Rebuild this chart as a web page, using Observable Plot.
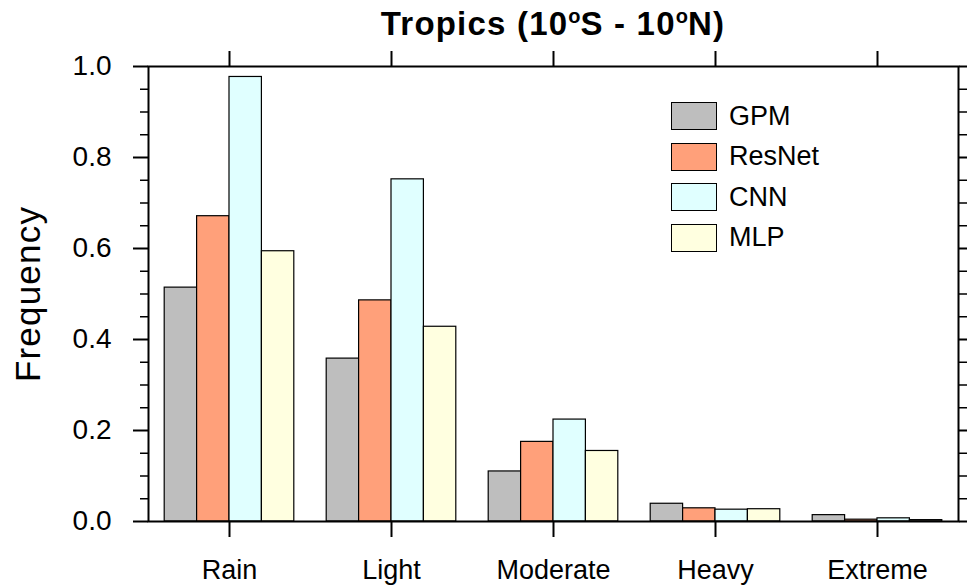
<!DOCTYPE html>
<html>
<head>
<meta charset="utf-8">
<script src="https://cdn.jsdelivr.net/npm/d3@7"></script>
<script src="https://cdn.jsdelivr.net/npm/@observablehq/plot@0.6"></script>
<style>
  html, body { margin: 0; padding: 0; background: #fff; }
  #wrap { position: relative; width: 967px; height: 588px; overflow: hidden; font-family: "Liberation Sans", Arial, sans-serif; }
  #title { height: 40px; box-sizing: border-box; padding-left: 148px; padding-right: 9px; text-align: center;
           font-weight: bold; font-size: 33px; letter-spacing: 1.2px; line-height: 48px; color: #000; white-space: nowrap; }
  #title sup { font-size: 20px; font-weight: bold; vertical-align: 0; position: relative; top: -12px; letter-spacing: 0; }
  #legend { position: absolute; left: 671px; top: 102px; }
  .row { display: flex; align-items: center; height: 28px; margin-bottom: 12.5px; }
  .sw { width: 44px; height: 26px; border: 1.2px solid #000; }
  .lab { margin-left: 12px; font-size: 27px; color: #000; }
  svg { display: block; }
</style>
</head>
<body>
<div id="wrap">
  <div id="title">Tropics (10<sup>o</sup>S - 10<sup>o</sup>N)</div>
  <div id="chart"></div>
  <div id="legend"></div>
</div>
<script>
// ---- data ----
const categories = ["Rain", "Light", "Moderate", "Heavy", "Extreme"];
const models = ["GPM", "ResNet", "CNN", "MLP"];
const gpm    = [0.514, 0.358, 0.110, 0.039, 0.014];
const resnet = [0.671, 0.486, 0.175, 0.029, 0.004];
const cnn    = [0.977, 0.752, 0.224, 0.026, 0.007];
const mlp    = [0.594, 0.428, 0.155, 0.027, 0.003];
const colors = ["#bebebe", "#ffa07a", "#e0ffff", "#ffffe0"];
const yTicks = [0, 0.2, 0.4, 0.6, 0.8, 1.0];
const yMinorTicks = [0.05, 0.1, 0.15, 0.25, 0.3, 0.35, 0.45, 0.5, 0.55, 0.65, 0.7, 0.75, 0.85, 0.9, 0.95];
const yLabel = "Frequency";

// ---- table ----
const series = [gpm, resnet, cnn, mlp];
const groupWidth = 0.8; // fraction of each category slot occupied by the bars
const barW = groupWidth / models.length;
const rows = [];
categories.forEach((c, ci) => {
  models.forEach((m, mi) => {
    const x1 = ci + (1 - groupWidth) / 2 + mi * barW;
    rows.push({category: c, model: m, x1, x2: x1 + barW, value: series[mi][ci]});
  });
});
const xTicks = categories.map((c, i) => i + 0.5);
const font = "Liberation Sans, Arial, sans-serif";

const chart = Plot.plot({
  width: 967,
  height: 548,
  marginTop: 26,
  marginBottom: 67,
  marginLeft: 148,
  marginRight: 9,
  style: {fontFamily: font, color: "#000", background: "#fff"},
  x: {domain: [0, categories.length]},
  y: {domain: [0, 1]},
  color: {domain: models, range: colors},
  marks: [
    Plot.rectY(rows, {x1: "x1", x2: "x2", y1: 0, y2: "value", fill: "model", stroke: "#000", strokeWidth: 1.2}),
    Plot.frame({stroke: "#000", strokeWidth: 2}),
    // left axis
    Plot.axisY({anchor: "left", ticks: yTicks, tickSize: 15, tickPadding: 22, tickFormat: d3.format(".1f"), fontSize: 28, strokeWidth: 2, label: null}),
    Plot.axisY({anchor: "left", ticks: yMinorTicks, tickSize: 8, tickFormat: () => "", strokeWidth: 1.5, label: null}),
    // right axis
    Plot.axisY({anchor: "right", ticks: yTicks, tickSize: 15, tickFormat: () => "", strokeWidth: 2, label: null}),
    Plot.axisY({anchor: "right", ticks: yMinorTicks, tickSize: 8, tickFormat: () => "", strokeWidth: 1.5, label: null}),
    // bottom & top x ticks
    Plot.axisX({anchor: "bottom", ticks: xTicks, tickSize: 16, tickPadding: 22, tickFormat: d => categories[Math.round(d - 0.5)], fontSize: 27, strokeWidth: 2, label: null}),
    Plot.axisX({anchor: "top", ticks: xTicks, tickSize: 16, tickFormat: () => "", strokeWidth: 2, label: null}),
    // y axis title
    Plot.text([yLabel], {text: d => d, frameAnchor: "left", textAnchor: "middle", rotate: -90, dx: -120, fontSize: 35, fill: "#000", style: "letter-spacing: 1.2px"})
  ]
});
document.getElementById("chart").appendChild(chart);
chart.querySelectorAll("text").forEach(t => { if (t.textContent === yLabel) t.setAttribute("letter-spacing", "1.2"); });

// legend
const legend = document.getElementById("legend");
models.forEach((m, i) => {
  const row = document.createElement("div");
  row.className = "row";
  const sw = document.createElement("div");
  sw.className = "sw";
  sw.style.background = colors[i];
  const lab = document.createElement("div");
  lab.className = "lab";
  lab.textContent = m;
  row.appendChild(sw);
  row.appendChild(lab);
  legend.appendChild(row);
});
</script>
</body>
</html>
